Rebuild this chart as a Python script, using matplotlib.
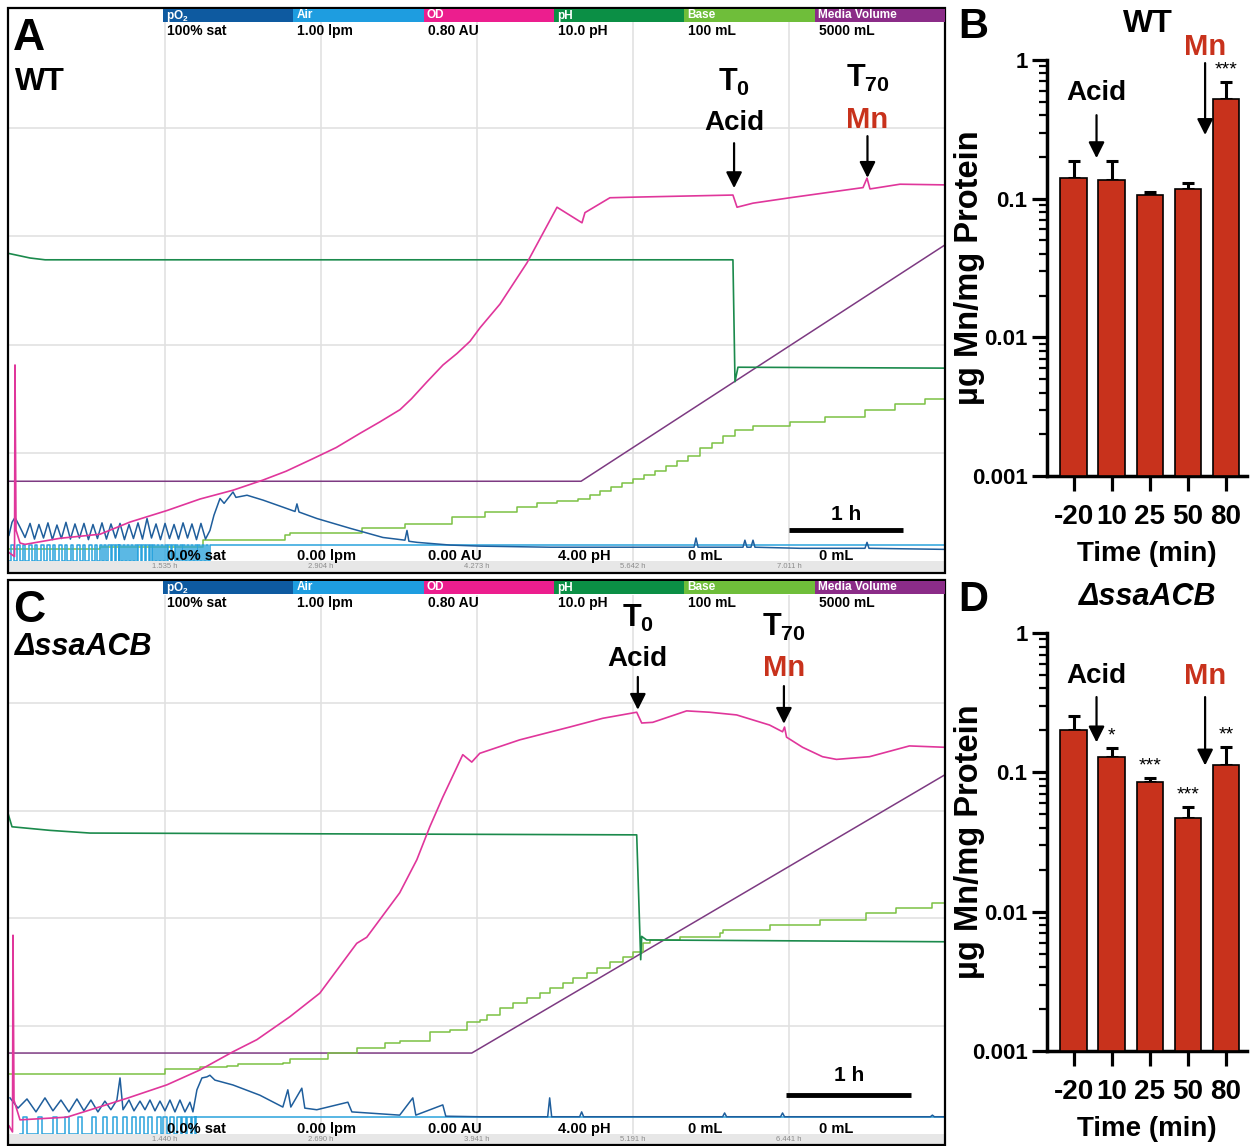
'''
Bioreactor runs (WT and ssaACB mutant) with acid shock and Mn addition,
plus Mn content bar plots
'''
import numpy as np
import matplotlib
matplotlib.use('Agg')
import matplotlib.pyplot as plt
from matplotlib.patches import Rectangle

plt.rcParams['font.family'] = ['Liberation Sans', 'DejaVu Sans']
plt.rcParams['font.weight'] = 'bold'
plt.rcParams['axes.labelweight'] = 'bold'
plt.rcParams['mathtext.fontset'] = 'custom'
plt.rcParams['mathtext.rm'] = 'Liberation Sans'
plt.rcParams['mathtext.bf'] = 'Liberation Sans:bold'
plt.rcParams['mathtext.it'] = 'Liberation Sans:italic:bold'

# ---------------- data: channel scales ----------------
channels = ['pO$_\\mathbf{2}$', 'Air', 'OD', 'pH', 'Base', 'Media Volume']
ch_lo = [0.0, 0.0, 0.0, 4.0, 0.0, 0.0]
ch_hi = [100.0, 1.0, 0.80, 10.0, 100.0, 5000.0]
ch_max_lab = ['100% sat', '1.00 lpm', '0.80 AU', '10.0 pH', '100 mL', '5000 mL']
ch_min_lab = ['0.0% sat', '0.00 lpm', '0.00 AU', '4.00 pH', '0 mL', '0 mL']

# ---------------- panel A: WT run (hours) ----------------
grid_A = [1.535, 2.904, 4.273, 5.642, 7.011]
xlim_A = (0.166, 8.380)
acid_A = 6.53
mn_A = 7.70

po2_A_t = [0.170, 0.197, 0.223, 0.267, 0.311,
           0.355, 0.394, 0.433, 0.473, 0.512, 0.551, 0.591, 0.630, 0.670, 0.709,
           0.749, 0.788, 0.828, 0.867, 0.907, 0.946, 0.986, 1.025, 1.065, 1.104,
           1.144, 1.183, 1.223, 1.262, 1.302, 1.341, 1.381, 1.420, 1.460, 1.499,
           1.539, 1.578, 1.618, 1.657, 1.697, 1.736, 1.775, 1.815, 1.854, 1.894,
           1.933, 1.968, 2.021, 2.057, 2.135, 2.161, 2.258, 2.398, 2.573, 2.679,
           2.696, 2.714, 2.871, 3.161, 3.450, 3.643, 3.661, 3.678, 3.749, 4.038,
           4.302, 4.916, 5.793, 6.179, 6.196, 6.214, 6.608, 6.625, 6.643, 6.678,
           6.696, 6.713, 7.108, 7.678, 7.696, 7.713, 8.380]
po2_A_v = [4.8, 7.2, 8.1, 6.3, 4.4,
           7.0, 4.1, 6.8, 4.3, 7.1, 4.0, 6.7, 4.2, 7.2, 4.1,
           6.9, 4.3, 7.0, 4.0, 6.8, 4.2, 7.1, 4.1, 6.9, 4.3,
           7.0, 4.0, 6.8, 4.2, 7.1, 4.1, 7.9, 4.3, 6.9, 4.0,
           7.0, 4.2, 6.8, 4.1, 7.1, 4.3, 6.9, 4.0, 7.0, 4.1,
           5.7, 8.5, 11.6, 10.7, 12.8, 11.8, 12.2, 11.3, 10.0, 9.2,
           10.6, 9.1, 7.9, 6.1, 4.4, 3.9, 5.7, 3.7, 3.5, 3.0,
           2.8, 2.6, 2.6, 2.6, 4.3, 2.6, 2.6, 3.9, 2.6, 2.6,
           3.9, 2.6, 2.4, 2.4, 3.5, 2.4, 2.2]

air_A_onsets = [0.188, 0.241, 0.293, 0.346, 0.398, 0.451, 0.504, 0.556, 0.609,
                0.661, 0.714, 0.767, 0.819, 0.872, 0.924, 0.968, 1.003, 1.039,
                1.074, 1.109, 1.135, 1.170, 1.205, 1.240, 1.275, 1.302, 1.337,
                1.372, 1.407, 1.433, 1.468, 1.503, 1.538, 1.565, 1.600, 1.635,
                1.670, 1.696, 1.731, 1.766, 1.801, 1.828, 1.863, 1.898]
air_A_pulse = 0.022
air_A_level = 0.030
air_A_on = 1.933

od_A_t = [0.170, 0.219, 0.223, 0.232, 0.267, 0.311, 0.618, 0.969, 1.232, 1.556,
          1.846, 2.135, 2.398, 2.600, 2.829, 3.040, 3.249, 3.424, 3.600, 3.700,
          3.836, 3.977, 4.100, 4.214, 4.302, 4.477, 4.714, 4.977, 5.196, 5.222,
          5.441, 5.678, 6.520, 6.556, 6.696, 7.020, 7.661, 7.696, 7.722, 7.985,
          8.380]
od_A_v = [0.013, 0.007, 0.290, 0.046, 0.027, 0.025, 0.034, 0.040, 0.058, 0.075,
          0.092, 0.105, 0.120, 0.133, 0.151, 0.168, 0.189, 0.206, 0.224, 0.240,
          0.265, 0.290, 0.307, 0.325, 0.345, 0.380, 0.441, 0.523, 0.500, 0.515,
          0.537, 0.538, 0.541, 0.523, 0.529, 0.537, 0.552, 0.566, 0.550, 0.557,
          0.556]

ph_A_t = [0.170, 0.355, 0.487, 6.520, 6.538, 6.564, 8.380]
ph_A_v = [7.41, 7.36, 7.34, 7.34, 5.99, 6.15, 6.14]

media_A_t = [0.170, 5.188, 8.380]
media_A_v = [739, 739, 2921]

base_A_t = [0.170, 0.969, 1.056, 1.872, 2.591, 2.635, 3.266, 3.643, 4.056, 4.345,
            4.626, 4.801, 4.977, 5.161, 5.266, 5.354, 5.450, 5.547, 5.643, 5.740,
            5.836, 5.933, 6.029, 6.126, 6.231, 6.336, 6.433, 6.538, 6.696, 7.020,
            7.327, 7.678, 7.941, 8.204, 8.380]
base_A_v = [2.2, 2.6, 2.7, 3.9, 4.8, 5.2, 6.1, 6.8, 8.1, 9.1,
            10.0, 10.7, 11.1, 11.5, 12.2, 12.9, 13.7, 14.4, 15.2, 15.9,
            16.6, 17.6, 18.5, 19.4, 20.9, 21.8, 23.1, 24.2, 25.0, 25.7,
            26.6, 27.9, 29.0, 29.9, 29.9]

# ---------------- panel C: ssaACB run (hours) ----------------
grid_C = [1.440, 2.690, 3.941, 5.191, 6.441]
xlim_C = (0.190, 7.690)
acid_C = 5.23
mn_C = 6.40

po2_C_t = [0.202, 0.266, 0.338, 0.410, 0.482, 0.546, 0.610, 0.674, 0.738, 0.794,
           0.850, 0.906, 0.962, 1.010, 1.058, 1.083, 1.107, 1.155, 1.195, 1.243,
           1.283, 1.323, 1.363, 1.403, 1.443, 1.483, 1.523, 1.563, 1.603, 1.643,
           1.667,
           1.699, 1.739, 1.779, 1.803, 1.843, 1.987, 2.203, 2.387, 2.427, 2.451,
           2.539, 2.563, 2.659, 2.908, 2.940, 3.323, 3.428, 3.452, 3.668, 3.692,
           3.964, 4.508, 4.524, 4.540, 4.764, 4.780, 4.796, 5.909, 5.925, 5.941,
           6.373, 6.389, 6.405, 7.573, 7.589, 7.605, 7.686]
po2_C_v = [6.7, 4.8, 6.5, 4.1, 6.7, 4.3, 6.3, 4.1, 6.5, 4.3,
           6.3, 4.1, 6.1, 4.5, 6.3, 10.4, 4.5, 6.3, 4.3, 6.1,
           4.5, 6.3, 4.3, 6.1, 4.3, 6.3, 4.1, 6.3, 4.1, 5.9,
           4.1,
           8.2, 10.4, 10.6, 10.9, 10.0, 9.1, 7.2, 5.0, 8.2, 5.0,
           8.5, 4.8, 4.5, 5.9, 4.1, 3.5, 6.7, 3.5, 5.4, 3.3,
           3.2, 3.2, 6.7, 3.2, 3.2, 4.1, 3.2, 3.2, 3.9, 3.2,
           3.2, 3.9, 3.2, 3.2, 3.5, 3.2, 3.2]

air_C_onsets = [0.306, 0.426, 0.546, 0.642, 0.746, 0.858, 0.946, 1.026, 1.106,
                1.179, 1.243, 1.307, 1.379, 1.427, 1.483, 1.539, 1.579, 1.619, 1.659]
air_C_pulse = 0.030
air_C_level = 0.032
air_C_on = 1.684

od_C_t = [0.194, 0.222, 0.226, 0.234, 0.282, 0.658, 1.139, 1.459, 1.723, 1.987,
          2.179, 2.443, 2.683, 2.979, 3.059, 3.163, 3.323, 3.460, 3.564, 3.668,
          3.828, 3.900, 3.964, 4.284, 4.684, 4.949, 5.221, 5.261, 5.349, 5.621,
          5.805, 6.021, 6.285, 6.389, 6.405, 6.421, 6.549, 6.709, 6.821, 7.085,
          7.405, 7.686]
od_C_v = [0.012, 0.003, 0.295, 0.050, 0.021, 0.025, 0.053, 0.073, 0.095, 0.122,
          0.140, 0.174, 0.209, 0.283, 0.292, 0.318, 0.358, 0.407, 0.456, 0.500,
          0.563, 0.552, 0.565, 0.585, 0.604, 0.617, 0.626, 0.610, 0.611, 0.628,
          0.626, 0.622, 0.607, 0.597, 0.604, 0.589, 0.574, 0.560, 0.556, 0.560,
          0.576, 0.574]

ph_C_t = [0.186, 0.218, 0.522, 0.842, 5.221, 5.253, 5.261, 5.300, 7.686]
ph_C_v = [7.57, 7.42, 7.38, 7.35, 7.33, 5.94, 6.20, 6.16, 6.14]

media_C_t = [0.194, 3.900, 7.686]
media_C_v = [751, 751, 3330]

base_C_t = [0.194, 1.443, 1.723, 1.939, 2.027, 2.387, 2.443, 2.747, 2.979, 3.204,
            3.323, 3.564, 3.724, 3.860, 3.964, 4.020, 4.124, 4.228, 4.340, 4.444,
            4.524, 4.628, 4.708, 4.820, 4.900, 5.005, 5.109, 5.189, 5.269, 5.325,
            5.565, 5.885, 5.909, 6.285, 6.685, 7.061, 7.301, 7.589, 7.686]
base_C_v = [11.1, 12.1, 12.4, 12.6, 13.0, 13.2, 13.9, 15.0, 16.0, 16.9,
            17.3, 18.9, 19.3, 20.8, 21.2, 22.1, 23.4, 24.3, 25.2, 26.2,
            27.1, 28.0, 28.9, 29.9, 30.8, 31.9, 32.8, 33.8, 35.4, 36.0,
            36.5, 37.3, 37.8, 38.8, 39.7, 41.0, 41.9, 42.9, 42.9]

# ---------------- panels B and D: Mn content ----------------
times_min = ['-20', '10', '25', '50', '80']
mn_wt = [0.141, 0.136, 0.106, 0.117, 0.523]
mn_wt_err = [0.046, 0.051, 0.006, 0.013, 0.167]
mn_wt_sig = ['', '', '', '', '***']
mn_ko = [0.200, 0.128, 0.0848, 0.0467, 0.112]
mn_ko_err = [0.053, 0.021, 0.006, 0.010, 0.039]
mn_ko_sig = ['', '*', '***', '***', '**']

# ---------------- styles ----------------
W, H = 1253, 1146
c_po2 = '#1f5e9c'
c_air = '#2aa3dd'
c_od = '#e0369b'
c_ph = '#1b8a4c'
c_base = '#7cc144'
c_media = '#7d3a82'
hdr_cols = ['#0e5aa0', '#1e9de0', '#ec1e8e', '#0b8f45', '#6fbe3a', '#8b2c88']
red = '#c8321c'


def px_box(x0, y0, x1, y1):
    return [x0 / W, 1 - y1 / H, (x1 - x0) / W, (y1 - y0) / H]


def norm(v, k):
    return (np.asarray(v, float) - ch_lo[k]) / (ch_hi[k] - ch_lo[k])


def pulse_series(onsets, width, t_on, t_end, level):
    t = [onsets[0] - 0.02]
    v = [0.0]
    for s in onsets:
        t += [s, s, s + width, s + width]
        v += [0.0, level, level, 0.0]
    t += [t_on, t_on, t_end]
    v += [0.0, level, level]
    return t, v


fig = plt.figure(figsize=(W / 100, H / 100), dpi=100)

bg = fig.add_axes([0, 0, 1, 1], zorder=-5)
bg.set_xlim(0, W)
bg.set_ylim(H, 0)
bg.axis('off')

top = fig.add_axes([0, 0, 1, 1], zorder=5)
top.set_xlim(0, W)
top.set_ylim(H, 0)
top.axis('off')


def run_panel(y_box, y_plot, xlim, grid_t, d, acid_t, mn_t, ann, sbar, letter, strain, italic):
    y0, y1 = y_box
    pt, pb = y_plot
    # strip with time labels and panel frame
    bg.add_patch(Rectangle((9, pb), 935, y1 - pb, color='#e7e7e7', lw=0))
    top.add_patch(Rectangle((8, y0), 937, y1 - y0, fill=False, ec='k', lw=1.6))
    # channel header
    seg = (945 - 163) / 6
    for i in range(6):
        hx = 163 + i * seg
        top.add_patch(Rectangle((hx, y0 + 1), seg, 12.5, color=hdr_cols[i], lw=0))
        top.text(hx + 3, y0 + 7.5, channels[i], color='white', fontsize=8.5,
                 va='center', ha='left')
        top.text(hx + 4, y0 + 23, ch_max_lab[i], fontsize=10, va='center', ha='left')
        top.text(hx + 4, pb - 5, ch_min_lab[i], fontsize=10.5, va='center', ha='left',
                 zorder=6)

    ax = fig.add_axes(px_box(8.5, pt, 945, pb))
    ax.patch.set_alpha(0)
    ax.set_xlim(xlim)
    ax.set_ylim(0, 1)
    ax.set_xticks(grid_t)
    ax.set_xticklabels(['%.3f h' % g for g in grid_t], fontsize=5.5,
                       color='#8c8c8c', fontweight='normal')
    ax.set_yticks([0.2, 0.4, 0.6, 0.8])
    ax.set_yticklabels([])
    ax.tick_params(length=0, pad=1.5)
    ax.grid(True, color='#e1e1e1', lw=1.2)
    for s in ax.spines.values():
        s.set_visible(False)

    ax.plot(d['media'][0], norm(d['media'][1], 5), color=c_media, lw=1.1)
    ax.step(d['base'][0], norm(d['base'][1], 4), where='post', color=c_base, lw=1.1)
    ax.plot(d['ph'][0], norm(d['ph'][1], 3), color=c_ph, lw=1.2)
    at, av = d['air']
    ax.plot(at, norm(av, 1), color=c_air, lw=1.1)
    ax.plot(d['po2'][0], norm(d['po2'][1], 0), color=c_po2, lw=1.1)
    ax.plot(d['od'][0], norm(d['od'][1], 2), color=c_od, lw=1.2)

    tr = ax.get_xaxis_transform()
    aprops = dict(arrowstyle='-|>', color='k', lw=1.6, mutation_scale=24,
                  shrinkA=0, shrinkB=0)
    for t_ev, lab, col, sub, (ys, yt, ya, yb) in [
            (acid_t, 'Acid', 'k', '0', ann[0]),
            (mn_t, 'Mn', red, '70', ann[1])]:
        ax.text(t_ev, ys, r'$\mathbf{T}_{\mathbf{%s}}$' % sub, transform=tr,
                ha='center', va='center', fontsize=22)
        ax.text(t_ev, yt, lab, transform=tr, ha='center', va='center',
                fontsize=20 if lab == 'Acid' else 21, color=col)
        ax.annotate('', xy=(t_ev, yb), xytext=(t_ev, ya), xycoords=tr,
                    textcoords=tr, arrowprops=aprops, annotation_clip=False)

    # 1 h scale bar
    bx, by, bty = sbar
    ax.plot([bx, bx + 1.0], [by, by], transform=tr, color='k', lw=3.5,
            solid_capstyle='butt')
    ax.text(bx + 0.5, bty, '1 h', transform=tr, ha='center', va='center', fontsize=15)

    top.text(13, y0 + 42, letter, fontsize=32, ha='left', va='baseline')
    top.text(15, y0 + 82 if not italic else y0 + 75, strain, fontsize=23 if not italic else 22,
             style='italic' if italic else 'normal', ha='left', va='baseline')


dA = dict(po2=(po2_A_t, po2_A_v),
          air=pulse_series(air_A_onsets, air_A_pulse, air_A_on, xlim_A[1], air_A_level),
          od=(od_A_t, od_A_v), ph=(ph_A_t, ph_A_v),
          media=(media_A_t, media_A_v), base=(base_A_t, base_A_v))
dC = dict(po2=(po2_C_t, po2_C_v),
          air=pulse_series(air_C_onsets, air_C_pulse, air_C_on, xlim_C[1], air_C_level),
          od=(od_C_t, od_C_v), ph=(ph_C_t, ph_C_v),
          media=(media_C_t, media_C_v), base=(base_C_t, base_C_v))

run_panel((8, 573), (19.7, 561.3), xlim_A, grid_A, dA, acid_A, mn_A,
          [(0.885, 0.809, 0.772, 0.689), (0.892, 0.814, 0.785, 0.708)],
          (7.011, 0.058, 0.0855), 'A', 'WT', False)
run_panel((580, 1145), (595, 1134), xlim_C, grid_C, dC, acid_C, mn_C,
          [(0.957, 0.881, 0.848, 0.787), (0.939, 0.865, 0.831, 0.761)],
          (6.42, 0.072, 0.109), 'C', '\u0394ssaACB', True)


def bar_panel(y_top, y_bot, vals, errs, sig, ann, title, italic, letter):
    ax = fig.add_axes(px_box(1047, y_top, 1247, y_bot))
    x = np.arange(len(times_min))
    ylo = 0.001
    ax.set_yscale('log')
    ax.errorbar(x, vals, yerr=[np.zeros(len(vals)), errs], fmt='none', ecolor='k',
                elinewidth=2.2, capsize=4.5, capthick=2.2, zorder=2)
    ax.bar(x, np.asarray(vals) - ylo, bottom=ylo, width=0.7, color=red,
           edgecolor='k', lw=1.2, zorder=3)
    ax.set_ylim(ylo, 1)
    ax.set_xlim(-0.7, 4.55)
    ax.set_yticks([0.001, 0.01, 0.1, 1])
    ax.set_yticklabels(['0.001', '0.01', '0.1', '1'], fontsize=16)
    ax.set_xticks(x)
    ax.set_xticklabels(times_min, fontsize=20)
    ax.tick_params(which='major', length=11, width=2.3, direction='out', pad=3)
    ax.tick_params(axis='x', pad=9)
    ax.tick_params(which='minor', length=5.5, width=1.6)
    for s in ['top', 'right']:
        ax.spines[s].set_visible(False)
    for s in ['left', 'bottom']:
        ax.spines[s].set_linewidth(2.5)
    ax.set_xlabel('Time (min)', fontsize=20, labelpad=8)
    ax.set_ylabel('\u00b5g Mn/mg Protein', fontsize=23.5)
    ax.yaxis.set_label_coords(-0.31, 0.5)
    for xi, v, e, s in zip(x, vals, errs, sig):
        if s:
            ax.text(xi, (v + e) * 1.22, s, ha='center', va='center', fontsize=14,
                    fontweight='normal')
    aprops = dict(arrowstyle='-|>', color='k', lw=1.6, mutation_scale=24,
                  shrinkA=0, shrinkB=0)
    (ax_x, at_y, a0, a1), (mx, mt_y, m0, m1) = ann
    ax.text(ax_x, at_y, 'Acid', ha='center', va='center', fontsize=20)
    ax.annotate('', xy=(ax_x, a1), xytext=(ax_x, a0), arrowprops=aprops,
                annotation_clip=False)
    ax.text(mx, mt_y, 'Mn', ha='center', va='center', fontsize=21, color=red)
    ax.annotate('', xy=(mx, m1), xytext=(mx, m0), arrowprops=aprops,
                annotation_clip=False)
    top.text(1148, y_top - 28, title, ha='center', va='baseline',
             fontsize=22 if italic else 23, style='italic' if italic else 'normal')
    top.text(958, y_top - 22, letter, ha='left', va='baseline', fontsize=30)


bar_panel(60, 476, mn_wt, mn_wt_err, mn_wt_sig,
          [(0.6, 0.578, 0.40, 0.196), (3.45, 1.25, 0.95, 0.288)], 'WT', False, 'B')
bar_panel(633, 1051, mn_ko, mn_ko_err, mn_ko_sig,
          [(0.6, 0.49, 0.347, 0.164), (3.45, 0.49, 0.347, 0.112)],
          '\u0394ssaACB', True, 'D')

fig.savefig('out.png', dpi=100)
